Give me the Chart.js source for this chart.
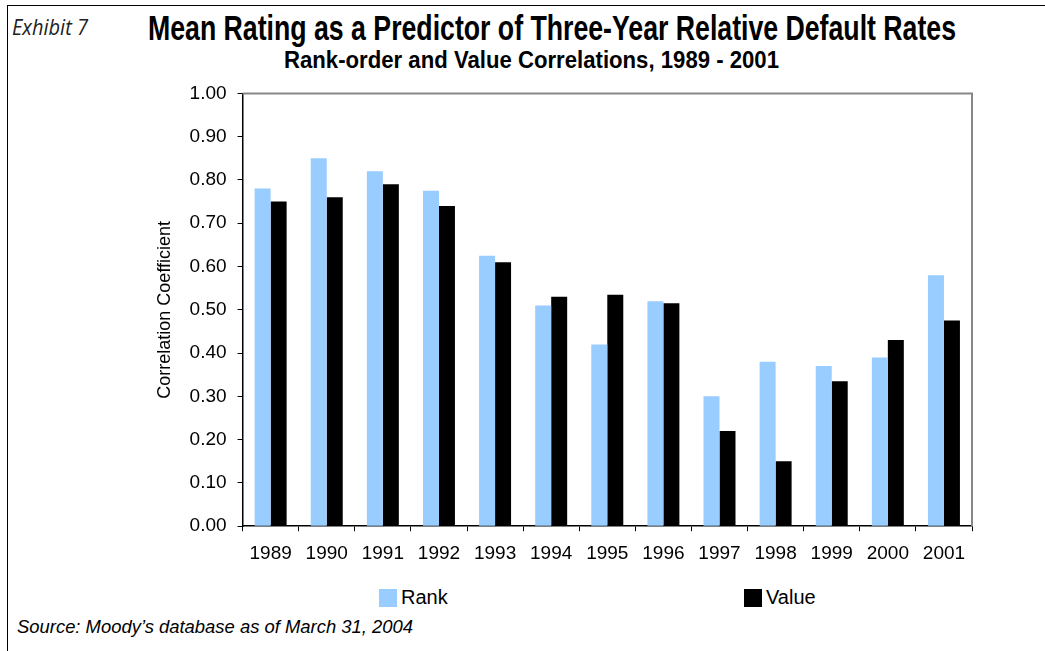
<!DOCTYPE html>
<html>
<head>
<meta charset="utf-8">
<script src="https://cdn.jsdelivr.net/npm/chart.js@4.4.0/dist/chart.umd.min.js"></script>
<style>
    body { margin: 0; width: 1045px; height: 651px; background: #fff; position: relative; overflow: hidden; font-family: "Liberation Sans", Arial, sans-serif; }
    #frame { position: absolute; left: 7px; top: 5px; width: 1100px; height: 700px; border-top: 1px solid #000; border-left: 1px solid #000; }
    .txt { position: absolute; white-space: nowrap; transform-origin: 0 0; color: #000; }
    #exhibit { font: italic 21px "Open Sans", "Noto Sans", sans-serif; color: #222; }
    #title { font: bold 35px "Liberation Sans Narrow", "Liberation Sans", Arial, sans-serif; }
    #subtitle { font: bold 23px "Liberation Sans Narrow", "Liberation Sans", Arial, sans-serif; }
    #source { font: italic 19px "Liberation Sans", Arial, sans-serif; }
    #chart-box { position: absolute; left: 150px; top: 71px; width: 893px; height: 505px; }
    #legend { position: absolute; left: 379px; top: 586px; display: flex; }
    .legend-item { width: 365px; display: flex; align-items: center; font: 20px "Liberation Sans", Arial, sans-serif; }
    .legend-box { width: 18px; height: 18px; margin-right: 4px; }
</style>
</head>
<body>
<div id="frame"></div>
<div class="txt" id="exhibit">Exhibit 7</div>
<div class="txt" id="title">Mean Rating as a Predictor of Three-Year Relative Default Rates</div>
<div class="txt" id="subtitle">Rank-order and Value Correlations, 1989 - 2001</div>
<div id="chart-box"><canvas id="chart"></canvas></div>
<div id="legend"></div>
<div class="txt" id="source">Source: Moody’s database as of March 31, 2004</div>

<script>
// Données
const years = ['1989', '1990', '1991', '1992', '1993', '1994', '1995', '1996', '1997', '1998', '1999', '2000', '2001'];
const rankCorr = [0.78, 0.85, 0.82, 0.775, 0.625, 0.51, 0.42, 0.52, 0.30, 0.38, 0.37, 0.39, 0.58];
const valueCorr = [0.75, 0.76, 0.79, 0.74, 0.61, 0.53, 0.535, 0.515, 0.22, 0.15, 0.335, 0.43, 0.475];
const seriesNames = ['Rank', 'Value'];
const seriesColors = ['#99ccff', '#000000'];
const yMin = 0;
const yMax = 1;
const yStep = 0.1;

const measureCtx = document.createElement('canvas').getContext('2d');

// Positionne un texte par sa ligne de base, et l'étire à la largeur voulue
function placeText(id, x, baseline, width) {
    const el = document.getElementById(id);
    const cs = getComputedStyle(el);
    measureCtx.font = cs.fontStyle + ' ' + cs.fontWeight + ' ' + cs.fontSize + ' ' + cs.fontFamily;
    const m = measureCtx.measureText(el.textContent);
    const size = parseFloat(cs.fontSize);
    const asc = m.fontBoundingBoxAscent;
    const desc = m.fontBoundingBoxDescent;
    el.style.lineHeight = size + 'px';
    el.style.left = x + 'px';
    el.style.top = (baseline - (size - (asc + desc)) / 2 - asc) + 'px';
    if (width) el.style.transform = 'scaleX(' + (width / m.width) + ')';
}

placeText('exhibit', 12, 35, 76);
placeText('title', 148, 40, 808);
placeText('subtitle', 284, 68, 495);
placeText('source', 17, 633, 396);

// Cadre gris en haut et à droite de la zone de tracé
const plotFrame = {
    id: 'plotFrame',
    afterDatasetsDraw(chart) {
        const { ctx, chartArea } = chart;
        ctx.save();
        ctx.strokeStyle = '#888888';
        ctx.lineWidth = 2;
        ctx.beginPath();
        ctx.moveTo(chartArea.left, chartArea.top);
        ctx.lineTo(chartArea.right, chartArea.top);
        ctx.lineTo(chartArea.right, chartArea.bottom);
        ctx.stroke();
        ctx.restore();
    }
};

const tickFont = { family: 'Liberation Sans', size: 19 };

const chart = new Chart(document.getElementById('chart'), {
    type: 'bar',
    data: {
        labels: years,
        datasets: [
            { label: seriesNames[0], data: rankCorr, backgroundColor: seriesColors[0] },
            { label: seriesNames[1], data: valueCorr, backgroundColor: seriesColors[1] }
        ]
    },
    options: {
        responsive: true,
        maintainAspectRatio: false,
        animation: false,
        categoryPercentage: 0.57,
        barPercentage: 1.0,
        layout: { padding: { left: 0, right: 71, top: 1, bottom: 0 } },
        plugins: {
            legend: { display: false },
            tooltip: { enabled: false }
        },
        scales: {
            x: {
                offset: true,
                grid: { offset: true, drawOnChartArea: false, drawTicks: true, tickLength: 5, color: '#000' },
                border: { color: '#000', width: 1.5 },
                ticks: { color: '#000', padding: 11, font: tickFont }
            },
            y: {
                min: yMin,
                max: yMax,
                grid: { drawOnChartArea: false, drawTicks: true, tickLength: 5, color: '#000' },
                border: { color: '#000', width: 1.5 },
                ticks: {
                    stepSize: yStep,
                    color: '#000',
                    padding: 11,
                    font: tickFont,
                    callback: v => v.toFixed(2)
                },
                title: {
                    display: true,
                    text: 'Correlation Coefficient',
                    color: '#000',
                    padding: { top: 4, bottom: 3 },
                    font: { family: 'Liberation Sans', size: 18 }
                }
            }
        }
    },
    plugins: [plotFrame]
});

// Légende HTML construite à partir des jeux de données
const legendEl = document.getElementById('legend');
chart.options.plugins.legend.labels.generateLabels(chart).forEach(item => {
    const div = document.createElement('div');
    div.className = 'legend-item';
    div.innerHTML = `<span class="legend-box" style="background:${item.fillStyle}"></span><span>${item.text}</span>`;
    legendEl.appendChild(div);
});
</script>
</body>
</html>
